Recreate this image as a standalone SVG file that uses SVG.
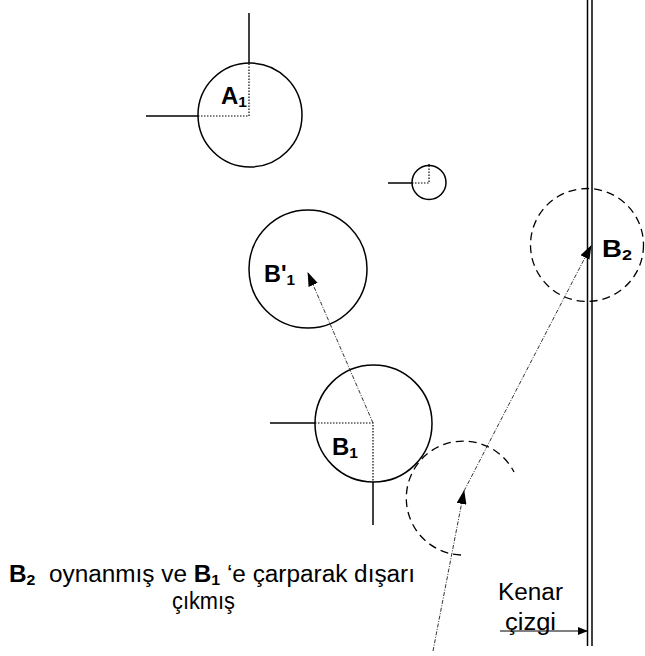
<svg xmlns="http://www.w3.org/2000/svg" width="645" height="656" viewBox="0 0 645 656">
<style>
.solid{fill:none;stroke:#000;stroke-width:1.5}
.dot{fill:none;stroke:#000;stroke-width:1.2;stroke-dasharray:1.5 1.5}
.dash{fill:none;stroke:#000;stroke-width:1.3;stroke-dasharray:8 5}
.path{fill:none;stroke:#333;stroke-width:1;stroke-dasharray:4 1.5 1 1.5}
.lbl{font-family:"Liberation Sans",Arial,sans-serif;font-size:23px;font-weight:bold;fill:#000}
.txt{font-family:"Liberation Sans",Arial,sans-serif;font-size:23px;fill:#000}
.sub{font-size:15px}
</style>
<defs>
<marker id="ah" markerWidth="14" markerHeight="10" refX="13" refY="5" orient="auto" markerUnits="userSpaceOnUse">
<path d="M0,0 L14,5 L0,10 Z" fill="#000"/>
</marker>
<marker id="ahs" markerWidth="10" markerHeight="8" refX="9" refY="4" orient="auto" markerUnits="userSpaceOnUse">
<path d="M0,0 L10,4 L0,8 Z" fill="#000"/>
</marker>
</defs>

<g id="sideline">
<line x1="587.5" y1="0" x2="587.5" y2="646" class="solid"/>
<line x1="592" y1="0" x2="592" y2="646" class="solid"/>
</g>

<g id="ballA1">
<circle cx="250" cy="115" r="52" class="solid"/>
<line x1="249" y1="13" x2="249" y2="63" class="solid"/>
<line x1="146" y1="116" x2="198" y2="116" class="solid"/>
<path d="M198,116 H249 V63" class="dot"/>
<text x="221" y="104" class="lbl" textLength="26" lengthAdjust="spacingAndGlyphs">A<tspan class="sub" dy="3">1</tspan></text>
</g>

<g id="ballSmall">
<circle cx="429" cy="182.5" r="17" class="solid"/>
<line x1="429" y1="164" x2="429" y2="166" class="solid"/>
<line x1="388" y1="183" x2="412" y2="183" class="solid"/>
<path d="M412,183 H429 V166" class="dot"/>
</g>

<g id="ballB1prime">
<circle cx="308" cy="269" r="59" class="solid"/>
<text x="264" y="282" class="lbl" textLength="31" lengthAdjust="spacingAndGlyphs">B'<tspan class="sub" dy="3">1</tspan></text>
</g>

<g id="ballB1">
<circle cx="373.5" cy="423.5" r="58.5" class="solid"/>
<line x1="270" y1="423" x2="315" y2="423" class="solid"/>
<line x1="373" y1="482" x2="373" y2="525" class="solid"/>
<path d="M315,423 H373 V482" class="dot"/>
<text x="332" y="455" class="lbl" textLength="26" lengthAdjust="spacingAndGlyphs">B<tspan class="sub" dy="3">1</tspan></text>
</g>

<g id="ballB2start">
<path d="M461,555 A57,57 0 1 1 514,472" class="dash"/>
</g>

<g id="ballB2">
<circle cx="587" cy="245" r="56.5" class="dash"/>
<text x="602" y="257" class="lbl" textLength="30" lengthAdjust="spacingAndGlyphs">B<tspan class="sub" dy="3">2</tspan></text>
</g>

<g id="connectors">
<line x1="373" y1="423" x2="308" y2="273" class="path" marker-end="url(#ah)"/>
<line x1="433" y1="651" x2="464" y2="491" class="path" marker-end="url(#ah)"/>
<line x1="464" y1="491" x2="591" y2="246" class="path" marker-end="url(#ah)"/>
<line x1="500" y1="631" x2="587" y2="631" stroke="#000" stroke-width="1.2" marker-end="url(#ahs)"/>
</g>

<g id="labels">
<text x="498" y="600" class="txt" textLength="65" lengthAdjust="spacingAndGlyphs">Kenar</text>
<text x="505" y="630" class="txt" textLength="51" lengthAdjust="spacingAndGlyphs">çizgi</text>
<text x="9" y="582" class="txt" textLength="406" lengthAdjust="spacingAndGlyphs"><tspan font-weight="bold">B<tspan class="sub" dy="3">2</tspan></tspan><tspan dy="-3">&#160; oynanmış ve </tspan><tspan font-weight="bold">B<tspan class="sub" dy="3">1</tspan></tspan><tspan dy="-3"> ‘e çarparak dışarı</tspan></text>
<text x="172" y="609" class="txt" textLength="63" lengthAdjust="spacingAndGlyphs">çıkmış</text>
</g>
</svg>
